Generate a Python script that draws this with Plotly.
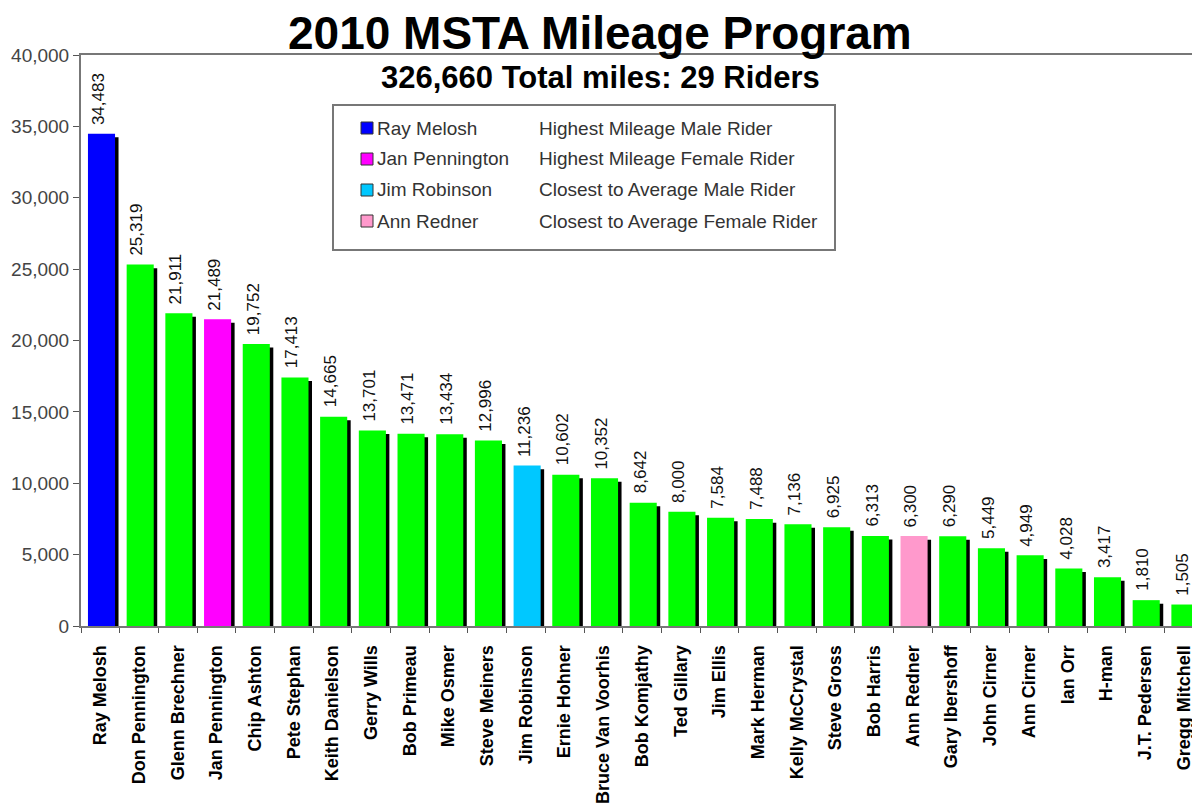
import plotly.graph_objects as go

riders = ["Ray Melosh", "Don Pennington", "Glenn Brechner", "Jan Pennington", "Chip Ashton",
          "Pete Stephan", "Keith Danielson", "Gerry Wills", "Bob Primeau", "Mike Osmer",
          "Steve Meiners", "Jim Robinson", "Ernie Hohner", "Bruce Van Voorhis", "Bob Komjathy",
          "Ted Gillary", "Jim Ellis", "Mark Herman", "Kelly McCrystal", "Steve Gross",
          "Bob Harris", "Ann Redner", "Gary Ibershoff", "John Cirner", "Ann Cirner",
          "Ian Orr", "H-man", "J.T. Pedersen", "Gregg Mitchell"]
miles = [34483, 25319, 21911, 21489, 19752, 17413, 14665, 13701, 13471, 13434,
         12996, 11236, 10602, 10352, 8642, 8000, 7584, 7488, 7136, 6925,
         6313, 6300, 6290, 5449, 4949, 4028, 3417, 1810, 1505]

highlight_names = ["Ray Melosh", "Jan Pennington", "Jim Robinson", "Ann Redner"]
highlight_desc = ["Highest Mileage Male Rider", "Highest Mileage Female Rider",
                  "Closest to Average Male Rider", "Closest to Average Female Rider"]
highlight_colors = ["#0000FF", "#FF00FF", "#00C8FF", "#FF99CC"]
default_color = "#00FF00"

title = "2010 MSTA Mileage Program"
subtitle = "326,660 Total miles: 29 Riders"

color_map = dict(zip(highlight_names, highlight_colors))
bar_colors = [color_map.get(r, default_color) for r in riders]

# page body margin offset (browser default 8px)
OFF = 8
W, H = 1200, 809
L, R, T, B = 81 - OFF, OFF, 55 - OFF, 809 - 626 + OFF
pw = W - L - R
ph = H - T - B

FONT = "Arial, Liberation Sans, sans-serif"


def px2x(px):
    return (px - OFF - L) / pw


def px2y(py):
    return (H - B - (py - OFF)) / ph


fig = go.Figure()
# 3D-style black shadow
fig.add_trace(go.Bar(
    x=riders, y=[v - 250 for v in miles], offset=-0.22, width=0.69,
    marker=dict(color="black", line=dict(width=0)), hoverinfo="skip", showlegend=False))
fig.add_trace(go.Bar(
    x=riders, y=miles, offset=-0.32, width=0.7,
    marker=dict(color=bar_colors, line=dict(width=0)),
    cliponaxis=False, showlegend=False))

shapes = []
annotations = []
# value labels
for r, v in zip(riders, miles):
    annotations.append(dict(xref="x", yref="y", x=r, y=v, xshift=-2, yshift=7,
                            text=f"{v:,}", textangle=-90, showarrow=False,
                            xanchor="center", yanchor="bottom",
                            font=dict(family=FONT, size=17, color="#111")))
# legend box
shapes.append(dict(type="rect", xref="paper", yref="paper",
                   x0=px2x(333), x1=px2x(835), y0=px2y(250), y1=px2y(105),
                   line=dict(color="#777", width=2), fillcolor="white", layer="below"))
row_y = [128, 159, 190, 221]
for name, desc, col, ry in zip(highlight_names, highlight_desc, highlight_colors, row_y):
    shapes.append(dict(type="rect", xref="paper", yref="paper",
                       x0=px2x(361), x1=px2x(373), y0=px2y(ry + 6), y1=px2y(ry - 6),
                       line=dict(color="#333", width=1), fillcolor=col))
    annotations.append(dict(xref="paper", yref="paper", x=px2x(375), y=px2y(ry),
                            xanchor="left", yanchor="middle", showarrow=False, text=name,
                            font=dict(family=FONT, size=19, color="#333")))
    annotations.append(dict(xref="paper", yref="paper", x=px2x(537), y=px2y(ry),
                            xanchor="left", yanchor="middle", showarrow=False, text=desc,
                            font=dict(family=FONT, size=19, color="#333")))

annotations.append(dict(xref="paper", yref="paper", x=px2x(600), y=px2y(33),
                        xanchor="center", yanchor="middle", showarrow=False, text="<b>" + title + "</b>",
                        font=dict(family=FONT, size=46, color="black")))
annotations.append(dict(xref="paper", yref="paper", x=px2x(600), y=px2y(78),
                        xanchor="center", yanchor="middle", showarrow=False, text="<b>" + subtitle + "</b>",
                        font=dict(family=FONT, size=31, color="black")))

fig.update_layout(
    width=W, height=H,
    margin=dict(l=L, r=R, t=T, b=B, autoexpand=False),
    paper_bgcolor="white", plot_bgcolor="white",
    barmode="overlay",
    shapes=shapes, annotations=annotations,
    xaxis=dict(type="category", range=[-0.5, 28.42], showline=True, mirror=True,
               linecolor="#777", linewidth=2, ticks="outside", tickson="boundaries",
               ticklen=5, tickcolor="#555", tickangle=-90, showgrid=False,
               tickfont=dict(family=FONT, size=18, color="black", weight="bold"),
               ticklabelstandoff=10),
    yaxis=dict(range=[0, 40000], dtick=5000, tickformat=",", showline=True,
               linecolor="#777", linewidth=2, ticks="outside", ticklen=6, tickcolor="#555",
               showgrid=False, zeroline=False,
               tickfont=dict(family=FONT, size=19, color="#444")),
)

fig.write_html("out.html")
